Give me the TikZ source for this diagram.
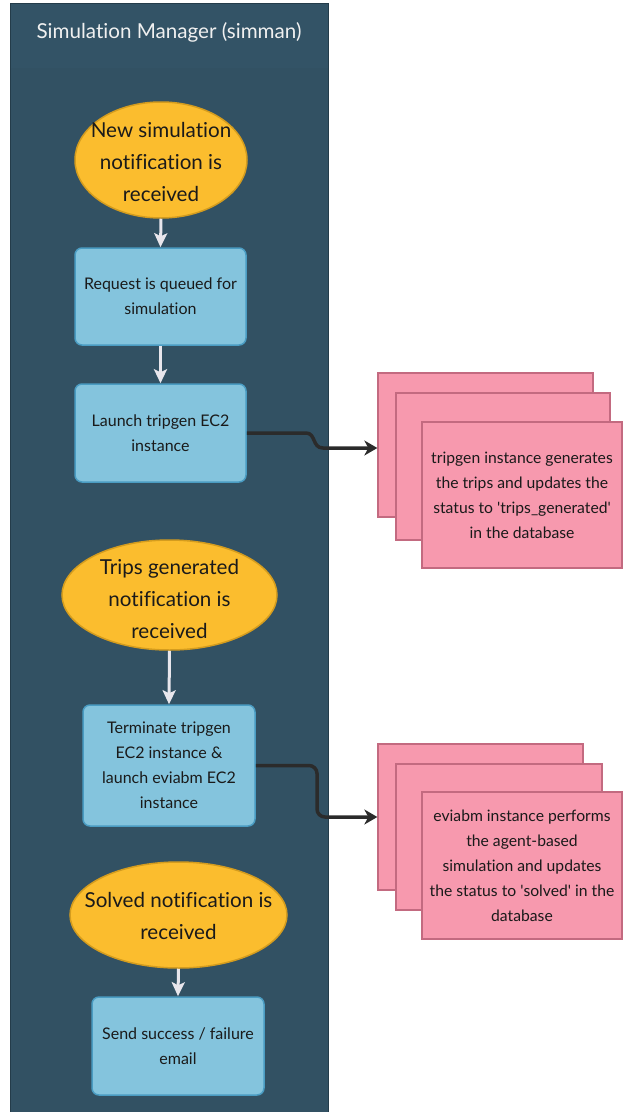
\documentclass[tikz,border=0pt]{standalone}
\usepackage{fontspec}
\setmainfont[Ligatures=NoCommon]{Lato}
\usetikzlibrary{shapes.geometric,arrows.meta}
\definecolor{panelfill}{HTML}{325163}
\definecolor{headfill}{HTML}{335366}
\definecolor{panelline}{HTML}{243C4A}
\definecolor{evfill}{HTML}{FBBD2E}
\definecolor{evline}{HTML}{D49C1E}
\definecolor{boxfill}{HTML}{84C4DD}
\definecolor{boxline}{HTML}{4A9CC2}
\definecolor{pinkfill}{HTML}{F799AE}
\definecolor{pinkline}{HTML}{C36A80}
\definecolor{warrcol}{HTML}{E8E6EC}
\definecolor{darrcol}{HTML}{2B2B2B}
\definecolor{txt}{HTML}{1A1A1A}
\tikzset{
  evshape/.style={ellipse, draw=evline, fill=evfill, line width=1.5pt, inner sep=0pt},
  evtext/.style={align=center, text=txt, font=\fontsize{20.6pt}{32pt}\selectfont, inner sep=0pt},
  procbox/.style={rectangle, rounded corners=7pt, draw=boxline, fill=boxfill, line width=1.5pt,
    align=center, text=txt, font=\fontsize{16pt}{25pt}\selectfont, inner sep=0pt},
  pinkbox/.style={rectangle, draw=pinkline, fill=pinkfill, line width=1.3pt,
    align=center, text=txt, font=\fontsize{15.7pt}{25pt}\selectfont, inner sep=0pt},
  warr/.style={draw=warrcol, line width=3pt, -{Stealth[length=14pt,width=13pt,inset=3pt]}},
  darr/.style={draw=darrcol, line width=3.5pt, -{Stealth[length=13pt,width=15pt,inset=4pt]}},
}
\begin{document}
\begin{tikzpicture}[x=1pt,y=-1pt]
\useasboundingbox (0,0) rectangle (624,1112);
% panel
\draw[fill=panelfill, draw=panelline, line width=1pt] (10,3) rectangle (328,1114);
\fill[headfill] (10.5,3.5) rectangle (327.5,68);
\node[text=white!94!black, font=\fontsize{20.6pt}{24pt}\selectfont] (title) at (169,32) {Simulation Manager (simman)};

% first event
\node[evshape, minimum width=172pt, minimum height=116pt] (e1) at (161,160) {};
\node[evtext] (e1t) at (161,162) {New simulation\\notification is\\received};
\node[procbox, minimum width=171pt, minimum height=97pt] (b1) at (160.5,296.5) {Request is queued for\\simulation};
\node[procbox, minimum width=171pt, minimum height=98pt] (b2) at (160.5,433) {Launch tripgen EC2\\instance};

% first stack
\node[pinkbox, minimum width=215pt, minimum height=144pt] (s1a) at (485.5,445) {};
\node[pinkbox, minimum width=214pt, minimum height=147pt] (s1b) at (503,466.5) {};
\node[pinkbox, minimum width=200pt, minimum height=146pt] (s1c) at (522,495) {tripgen instance generates\\the trips and updates the\\status to \textquotesingle trips\_generated\textquotesingle\\in the database};

% second event
\node[evshape, minimum width=215pt, minimum height=110pt] (e2) at (169.5,595) {};
\node[evtext] (e2t) at (169.5,599) {Trips generated\\notification is\\received};
\node[procbox, minimum width=172pt, minimum height=121pt] (b3) at (169,765.5) {Terminate tripgen\\EC2 instance \&\\launch eviabm EC2\\instance};

% second stack
\node[pinkbox, minimum width=205pt, minimum height=146pt] (s2a) at (480.5,817) {};
\node[pinkbox, minimum width=206pt, minimum height=146pt] (s2b) at (499,837) {};
\node[pinkbox, minimum width=200pt, minimum height=147pt] (s2c) at (522,865.5) {eviabm instance performs\\the agent-based\\simulation and updates\\the status to \textquotesingle solved\textquotesingle\ in the\\database};

% third event
\node[evshape, minimum width=217pt, minimum height=106pt] (e3) at (178.5,915) {};
\node[evtext] (e3t) at (178.5,916) {Solved notification is\\received};
\node[procbox, minimum width=172pt, minimum height=98pt] (b4) at (178,1046) {Send success / failure\\email};

% white arrows
\draw[warr] (e1.south) -- (b1.north);
\draw[warr] (b1.south) -- (b2.north);
\draw[warr] (e2.south) -- (b3.north);
\draw[warr] (e3.south) -- (b4.north);

% dark connectors
\draw[darr] (b2.east) -- (306,433) .. controls (316,433) and (312,448) .. (323,448) -- ([yshift=-3pt]s1a.west);
\draw[darr, rounded corners=8pt] (b3.east) -- (317,765.5) |- (s2a.west);
\end{tikzpicture}
\end{document}
